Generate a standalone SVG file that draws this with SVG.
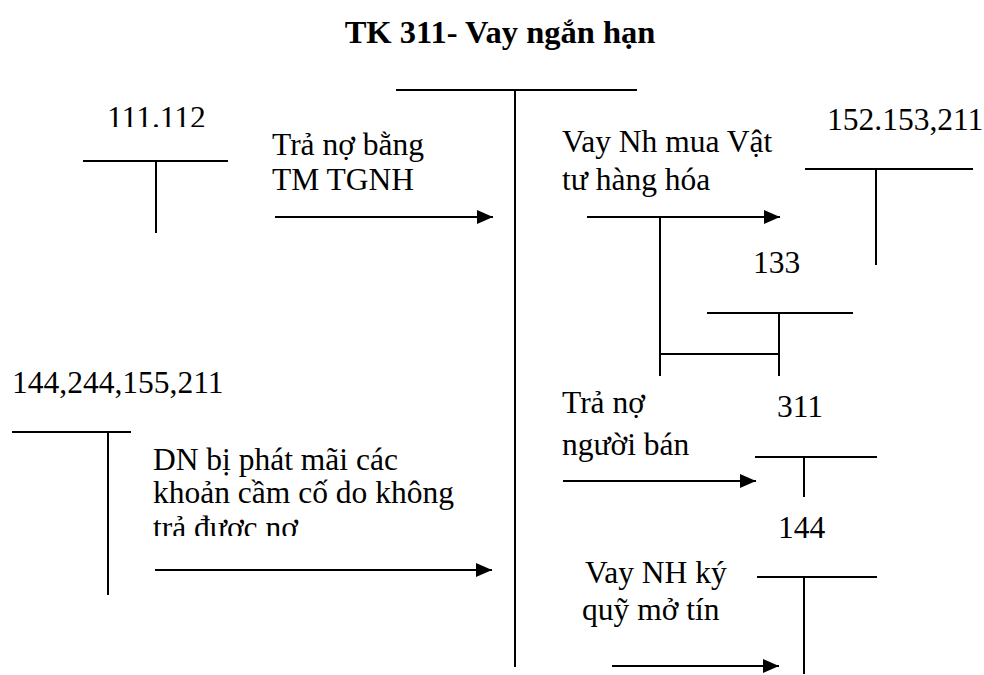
<svg xmlns="http://www.w3.org/2000/svg" width="984" height="675" viewBox="0 0 984 675">
<style>
text{font-family:"Liberation Serif","Times New Roman",Times,"DejaVu Serif",serif;font-size:31.5px;fill:#000}
.title{font-weight:bold;font-size:32.5px}
line{stroke:#000;stroke-width:2;fill:none}
.arr{marker-end:url(#ah)}
</style>
<defs>
<marker id="ah" markerUnits="userSpaceOnUse" markerWidth="16" markerHeight="14" refX="16" refY="7" orient="auto">
<path d="M0,0 L16,7 L0,14 z" fill="#000"/>
</marker>
<clipPath id="c1"><rect x="80" y="90" width="160" height="37"/></clipPath>
<clipPath id="c2"><rect x="140" y="440" width="360" height="96"/></clipPath>
</defs>
<rect width="984" height="675" fill="#fff"/>
<text class="title" x="500" y="43" text-anchor="middle">TK 311- Vay ngắn hạn</text>

<g id="tk311">
<line x1="396" y1="90" x2="637" y2="90"/>
<line x1="515" y1="90" x2="515" y2="667"/>
</g>

<g id="tk111">
<text x="107" y="128" clip-path="url(#c1)">111.112</text>
<line x1="83" y1="161" x2="228" y2="161"/>
<line x1="156" y1="161" x2="156" y2="233"/>
</g>

<g id="tk152">
<text x="827" y="130">152.153,211</text>
<line x1="805" y1="169" x2="973" y2="169"/>
<line x1="876" y1="169" x2="876" y2="265"/>
</g>

<g id="tk133">
<text x="753" y="273">133</text>
<line x1="707" y1="313" x2="853" y2="313"/>
<line x1="779" y1="313" x2="779" y2="376"/>
</g>

<g id="tk144a">
<text x="12" y="393">144,244,155,211</text>
<line x1="12" y1="432" x2="131" y2="432"/>
<line x1="108" y1="432" x2="108" y2="595"/>
</g>

<g id="tk311b">
<text x="777" y="417">311</text>
<line x1="755" y1="457" x2="877" y2="457"/>
<line x1="804" y1="457" x2="804" y2="497"/>
</g>

<g id="tk144">
<text x="778" y="538">144</text>
<line x1="757" y1="577" x2="877" y2="577"/>
<line x1="804" y1="577" x2="804" y2="674"/>
</g>

<g id="labels">
<text x="272" y="155">Trả nợ bằng</text>
<text x="272" y="190">TM TGNH</text>
<text x="562" y="152">Vay Nh mua Vật</text>
<text x="562" y="190">tư hàng hóa</text>
<g clip-path="url(#c2)">
<text x="153" y="470">DN bị phát mãi các</text>
<text x="153" y="503">khoản cầm cố do không</text>
<text x="153" y="538">trả được nợ</text>
</g>
<text x="562" y="413">Trả nợ</text>
<text x="562" y="455">người bán</text>
<text x="585" y="583">Vay NH ký</text>
<text x="582" y="620">quỹ mở tín</text>
</g>

<g id="connectors">
<line class="arr" x1="275" y1="217" x2="493" y2="217"/>
<line class="arr" x1="587" y1="217" x2="780" y2="217"/>
<line x1="660" y1="217" x2="660" y2="376"/>
<line x1="660" y1="354" x2="779" y2="354"/>
<line class="arr" x1="155" y1="570" x2="492" y2="570"/>
<line class="arr" x1="563" y1="481" x2="756" y2="481"/>
<line class="arr" x1="612" y1="666" x2="779" y2="666"/>
</g>
</svg>
